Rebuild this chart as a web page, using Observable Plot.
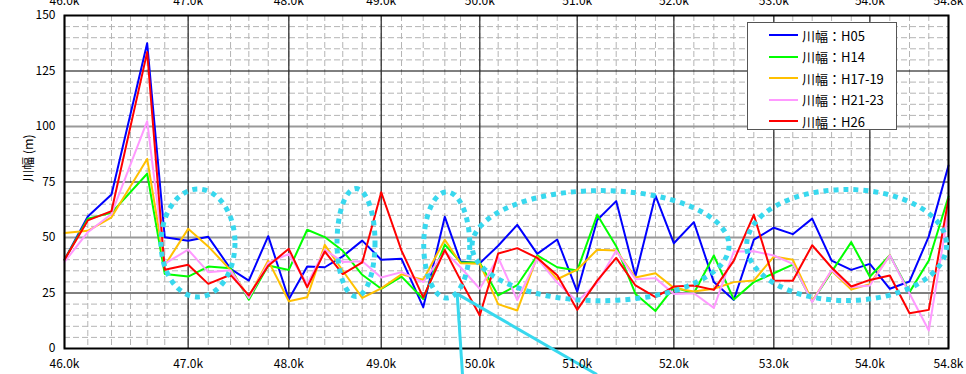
<!DOCTYPE html>
<html>
<head>
<meta charset="utf-8">
<script src="https://cdn.jsdelivr.net/npm/d3@7"></script>
<script src="https://cdn.jsdelivr.net/npm/@observablehq/plot@0.6"></script>
<style>
  body { margin: 0; background: #fff; }
  #wrap { position: relative; width: 966px; height: 374px; overflow: hidden; font-family: "Noto Sans CJK JP", sans-serif; }
  #legend { position: absolute; left: 747px; top: 22px; width: 150px; height: 108px; border: 1px solid #555; background: #fff; box-sizing: border-box; }
  .row { position: absolute; left: 0; height: 20px; display: flex; align-items: center; font-size: 13px; color: #000; }
  .sw { width: 29px; height: 2px; margin-left: 21px; margin-right: 4px; }
</style>
</head>
<body>
<div id="wrap"></div>
<script>
// x position of every cross-section (plot distance units)
const pos = [0,232,468,657,823,998,1231,1431,1653,1835,2028,2233,2416,2591,2770,2964,3153,3355,3571,3786,3942,4134,4317,4507,4706,4905,5104,5303,5492,5684,5883,6066,6265,6464,6663,6862,7061,7250,7443,7636,7832,8017,8216,8412,8604,8800];
// sections carrying a km label
const majorIdx = [0,6,11,16,21,26,31,36,41,45];
const majorLabels = ["46.0k","47.0k","48.0k","49.0k","50.0k","51.0k","52.0k","53.0k","54.0k","54.8k"];
const yTicks = [0,25,50,75,100,125,150];

const seriesNames = ["川幅：H05","川幅：H14","川幅：H17-19","川幅：H21-23","川幅：H26"];
const seriesColors = ["#0000ff","#00ff00","#ffc000","#ff99ff","#ff0000"];

const h05 = [40,59.5,69.4,null,137.5,50.1,48.5,50.3,35.9,30.6,50.6,22.2,36.9,36.6,41.5,48.6,40,40.4,18.6,59.3,39.2,38.4,46.3,55.7,42.6,49.1,25.6,57.9,66.4,32.6,68.9,47.4,56.9,29.9,21.9,49,54.4,51.5,58.5,39.6,35.4,38.1,26.9,30.2,50.5,82.4];
const h14 = [40,58.5,61.1,null,78.7,33.6,32.4,36.9,36.2,22,37.4,35.4,53.5,50.2,44,33.2,26.9,32.4,22.3,46.8,38.9,38.6,23.9,28.5,41.9,36.6,35.1,60.2,46.1,24.6,16.9,27.6,24.9,41.9,22.1,29.9,33.9,37.8,21.2,34.5,47.9,32.3,42,25.4,39.6,68.5];
const h17 = [52,53,59.1,null,85.4,37.4,53.9,46,35.3,23.2,39.6,21.3,23.1,46.7,35,22.8,27.1,33.4,31,49,38.4,38.2,20,17.1,41.4,31.2,35.5,44.5,44.2,32,33.9,27.3,25.7,26.9,29.9,30.6,41.4,40,21.4,35,26.6,29,42,null,null,null];
const h21 = [39,52.4,60.6,null,102.4,38.2,44.5,34.4,35.2,22.8,38.5,42.6,29,44.5,39,39.3,32,34.4,29.9,43.6,36.6,26.9,41,21.8,40.6,29.7,21.2,29.5,44.1,31.2,31.7,24.6,24.9,18.3,43.7,43.8,41.9,38.1,20.9,35.3,27.6,28.4,42,24.8,8.1,62.2];
const h26 = [40,57.7,61.9,null,133.5,35.5,37.7,29.1,33.2,23.9,37.3,44.9,27.6,43.7,33.5,38.8,70.4,44.1,23,44.4,30.8,14.9,42.8,45.2,40.8,33,17.4,30.6,40.8,28.4,23.1,27.9,28.4,26.4,39.6,60.2,30.6,30.5,46.5,36.5,27.9,30.9,32.9,15.9,17.4,67.4];

// annotation shapes (data units): dotted ellipses and callout lines
const ellipses = [
  {cx:1334, cy:47.3, rx:368, ry:24.3},
  {cx:2907, cy:47.5, rx:189, ry:24.3},
  {cx:3810, cy:46.4, rx:229, ry:23.9},
  {cx:5341, cy:46.1, rx:1279, ry:24.8},
  {cx:7791, cy:46.4, rx:995, ry:25.0}
];
const callouts = [
  {x1:3909, y1:24.6, x2:3962, y2:-11.7},
  {x1:3909, y1:24.6, x2:5300, y2:-11.7}
];

const allSeries = [h05,h14,h17,h21,h26];
const rows = [];
allSeries.forEach((vals, k) => vals.forEach((v, i) => { if (v != null) rows.push({s: seriesNames[k], x: pos[i], y: v}); }));

const majorPos = majorIdx.map(i => pos[i]);
const minorY = d3.range(5, 150, 5).filter(v => v % 25 !== 0);
const fmt = d => majorLabels[majorPos.indexOf(d)];

const chart = Plot.plot({
  width: 966, height: 374,
  marginLeft: 64, marginRight: 18, marginTop: 15, marginBottom: 26,
  x: {domain: [0, 8800]},
  y: {domain: [0, 150]},
  color: {domain: seriesNames, range: seriesColors},
  style: {fontFamily: '"Noto Sans CJK JP", sans-serif', fontSize: "12px", color: "#000", background: "#fff", overflow: "visible"},
  marks: [
    Plot.ruleY(minorY, {stroke: "#b4b4b4", strokeDasharray: "6,3"}),
    Plot.ruleX(pos, {stroke: "#b4b4b4", strokeDasharray: "6,3"}),
    Plot.ruleY([25, 75, 125], {stroke: "#000", strokeWidth: 1}),
    Plot.ruleY([50, 100], {stroke: "#999", strokeWidth: 2}),
    Plot.ruleX(majorPos, {stroke: "#333", strokeWidth: 1.3}),
    Plot.line(rows, {x: "x", y: "y", z: "s", stroke: "s", strokeWidth: 2}),
    Plot.frame({stroke: "#000", strokeWidth: 2}),
    Plot.link(callouts, {x1: "x1", y1: "y1", x2: "x2", y2: "y2", stroke: "#38d8ee", strokeWidth: 3}),
    Plot.axisY({ticks: yTicks, tickSize: 0, tickPadding: 9, label: null}),
    Plot.axisX({anchor: "bottom", ticks: majorPos, tickFormat: fmt, tickSize: 0, tickPadding: 11, label: null}),
    Plot.axisX({anchor: "top", ticks: majorPos, tickFormat: fmt, tickSize: 0, tickPadding: 11, label: null}),
    Plot.text(["川幅 (m)"], {frameAnchor: "left", rotate: -90, dx: -36, fontSize: 12.5})
  ]
});

const sx = chart.scale("x"), sy = chart.scale("y");
const g = d3.select(chart).append("g");
for (const e of ellipses) {
  g.append("ellipse")
    .attr("cx", sx.apply(e.cx)).attr("cy", sy.apply(e.cy))
    .attr("rx", sx.apply(e.cx + e.rx) - sx.apply(e.cx))
    .attr("ry", sy.apply(e.cy) - sy.apply(e.cy + e.ry))
    .attr("fill", "none").attr("stroke", "#38d8ee")
    .attr("stroke-width", 5).attr("stroke-dasharray", "5 5");
}

const wrap = document.getElementById("wrap");
wrap.appendChild(chart);

const legend = document.createElement("div");
legend.id = "legend";
seriesNames.forEach((n, k) => {
  const r = document.createElement("div");
  r.className = "row";
  r.style.top = (2 + k * 21.5) + "px";
  const sw = document.createElement("div");
  sw.className = "sw";
  sw.style.background = seriesColors[k];
  const t = document.createElement("span");
  t.textContent = n;
  r.appendChild(sw); r.appendChild(t);
  legend.appendChild(r);
});
wrap.appendChild(legend);
</script>
</body>
</html>
